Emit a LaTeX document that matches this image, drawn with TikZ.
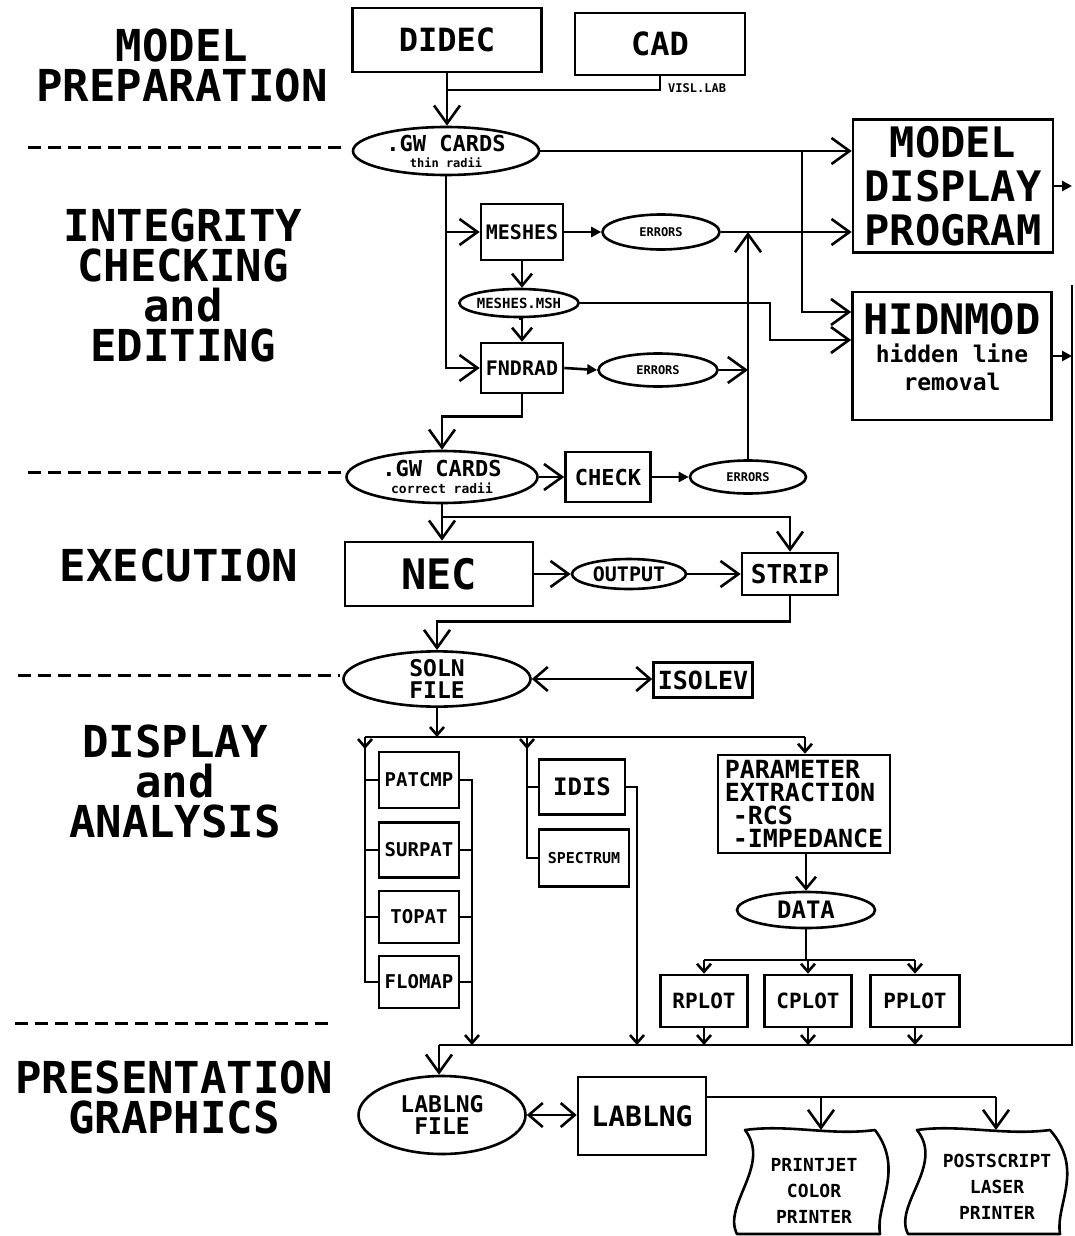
\documentclass[tikz,border=0pt]{standalone}
\usepackage{fontspec}
\newfontfamily\plotter{DejaVu Sans Mono}
\usetikzlibrary{arrows.meta,shapes.geometric}

\newcommand\pf[2]{\plotter\bfseries\fontsize{#1}{#2}\selectfont}
\newcommand\pfb[2]{\plotter\bfseries\fontsize{#1}{#2}\selectfont}

\tikzset{
  every node/.style={inner sep=0pt},
  sect/.style={font=\pf{44}{40}, align=center},
  box/.style={draw, line width=2.6pt, align=center},
  file/.style={ellipse, draw, line width=2.6pt, align=center},
  link/.style={line width=2.6pt},
  flow/.style={link, -{Straight Barb[length=18pt,width=26pt]}},
  mid/.style={link, -{Straight Barb[length=12pt,width=20pt]}},
  drop/.style={link, -{Straight Barb[length=8pt,width=14pt]}},
  feed/.style={link, -{Triangle[length=10pt,width=10pt]}},
  both/.style={link, {Straight Barb[length=14pt,width=24pt]}-{Straight Barb[length=14pt,width=24pt]}},
  divider/.style={line width=3pt, dash pattern=on 13pt off 7pt},
}

\begin{document}
\begin{tikzpicture}[x=1pt,y=-1pt]
\useasboundingbox (0,0) rectangle (1075,1236);

% section titles
\node[sect] (prep) at (182,65) {MODEL\\PREPARATION};
\node[sect] (integ) at (183,285) {INTEGRITY\\CHECKING\\and\hspace*{36pt}\\EDITING};
\node[sect] (exec) at (179,565) {EXECUTION};
\node[sect] (disp) at (175,781) {DISPLAY\\and\hspace*{34pt}\\ANALYSIS};
\node[sect] (pres) at (174,1097) {PRESENTATION\\GRAPHICS};

\draw[divider] (28,147) -- (345,147);
\draw[divider] (28,472) -- (345,472);
\draw[divider] (18,675) -- (340,675);
\draw[divider] (15,1023) -- (332,1023);

% model preparation
\node[box, minimum width=189pt, minimum height=64pt, font=\pf{32}{34}] (didec) at (447,40) {DIDEC};
\node[box, minimum width=170pt, minimum height=62pt, font=\pf{32}{34}] (cad) at (660,44) {CAD};
\coordinate (merge) at (447,90);
\draw[link] (cad.south) |- (merge);
\node[font=\pfb{12}{12}, anchor=west] (visl) at (668,88) {VISL.LAB};

\node[file, minimum width=186pt, minimum height=48pt, font=\pfb{22}{16}] (gw1) at (446,151) {.GW CARDS\\{\pfb{12}{12}thin radii}};
\draw[flow] (didec.south) -- (didec.south |- gw1.north);

% integrity checking
\node[box, minimum width=200pt, minimum height=133pt, font=\pf{42}{44}] (mdp) at (953,186) {MODEL\\DISPLAY\\PROGRAM};
\node[box, minimum width=199pt, minimum height=128pt] (hid) at (952,356) {};
\node[font=\pf{42}{28}, align=center] (hidtxt) at (952,347) {HIDNMOD\\{\pfb{23}{25}hidden line}\\{\pfb{23}{25}removal}};

\node[box, minimum width=82pt, minimum height=56pt, font=\pfb{20}{20}] (meshes) at (522,232) {MESHES};
\node[file, minimum width=117pt, minimum height=35pt, font=\pfb{12}{12}] (err1) at (661,232) {ERRORS};
\node[file, minimum width=119pt, minimum height=28pt, font=\pfb{14}{14}] (msh) at (519,303) {MESHES.MSH};
\node[box, minimum width=82pt, minimum height=50pt, font=\pfb{20}{20}] (fnd) at (522,368) {FNDRAD};
\node[file, minimum width=119pt, minimum height=33pt, font=\pfb{12}{12}] (err2) at (658,370) {ERRORS};

\draw[flow] (gw1.east) -- (gw1.east -| mdp.west);
\coordinate (split) at (802,151);
\draw[flow] (split) |- ([yshift=44pt]hid.west);
\draw[flow] (gw1.south) |- (meshes.west);
\draw[flow] (gw1.south) |- (fnd.west);
\draw[feed] (meshes.east) -- (err1.west);
\draw[mid] (meshes.south) -- (meshes.south |- msh.north);
\draw[mid] (msh.south) -- (msh.south -| fnd.north) -- (fnd.north);
\draw[feed] (fnd.east) -- (err2.west);
\draw[flow] (err1.east) -- (err1.east -| mdp.west);
\draw[flow] (msh.east) -- (770,303) |- ([yshift=16pt]hid.west);

% corrected cards
\node[file, minimum width=191pt, minimum height=52pt, font=\pfb{22}{17}] (gw2) at (442,477) {.GW CARDS\\{\pfb{13}{13}correct radii}};
\node[box, minimum width=85pt, minimum height=50pt, font=\pfb{22}{22}] (check) at (608,477) {CHECK};
\node[file, minimum width=116pt, minimum height=33pt, font=\pfb{12}{12}] (err3) at (748,477) {ERRORS};
\draw[flow] (fnd.south) -- ++(0,22) -| (gw2.north);
\draw[flow] (gw2.east) -- (check.west);
\draw[feed] (check.east) -- (err3.west);
\draw[flow] (err3.north) -- (err3.north |- err1.east);
\draw[flow] (err2.east) -- (err2.east -| err3.north);

% execution
\node[box, minimum width=188pt, minimum height=64pt, font=\pf{42}{44}] (nec) at (439,574) {NEC};
\node[file, minimum width=114pt, minimum height=30pt, font=\pfb{20}{20}] (output) at (629,574) {OUTPUT};
\node[box, minimum width=96pt, minimum height=42pt, font=\pfb{26}{26}] (strip) at (790,574) {STRIP};
\coordinate (tostrip) at (442,517);
\draw[flow] (gw2.south) -- (gw2.south |- nec.north);
\draw[flow] (tostrip) -| (strip.north);
\draw[flow] (nec.east) -- (output.west);
\draw[flow] (output.east) -- (strip.west);

% display and analysis
\node[file, minimum width=187pt, minimum height=50pt, font=\pf{23}{22}] (soln) at (437,679) {SOLN\\FILE};
\node[box, minimum width=99pt, minimum height=35pt, font=\pf{25}{25}] (isolev) at (703,680) {ISOLEV};
\draw[flow] (strip.south) -- ++(0,25) -| (soln.north);
\draw[both] (soln.east) -- (soln.east -| isolev.west);

\coordinate (dbus) at (437,737);
\coordinate (busL) at (365,737);
\coordinate (busM) at (527,737);
\coordinate (busR) at (805,737);
\draw[drop] (soln.south) -- (dbus);
\draw[link] (busL) -- (busR);

\node[box, minimum width=80pt, minimum height=56pt, font=\pfb{19}{19}] (patcmp) at (419,780) {PATCMP};
\node[box, minimum width=80pt, minimum height=55pt, font=\pfb{19}{19}] (surpat) at (419,850) {SURPAT};
\node[box, minimum width=80pt, minimum height=52pt, font=\pfb{19}{19}] (topat) at (419,917) {TOPAT};
\node[box, minimum width=80pt, minimum height=52pt, font=\pfb{19}{19}] (flomap) at (419,982) {FLOMAP};
\coordinate (outA) at (472,1045);
\draw[link] (busL) |- (flomap.west);
\draw[drop] (busL) -- ++(0,12);
\foreach \b in {patcmp,surpat,topat}
  \draw[link] (\b.west) -- (\b.west -| busL);
\draw[drop] (patcmp.east) -| (outA);
\foreach \b in {surpat,topat,flomap}
  \draw[link] (\b.east) -- (\b.east -| outA);

\node[box, minimum width=86pt, minimum height=55pt, font=\pf{24}{24}] (idis) at (582,787) {IDIS};
\node[box, minimum width=90pt, minimum height=57pt, font=\pfb{15}{15}] (spect) at (584,858) {SPECTRUM};
\coordinate (outB) at (637,1045);
\draw[link] (busM) |- (spect.west);
\draw[drop] (busM) -- ++(0,12);
\draw[link] (idis.west) -- (idis.west -| busM);
\draw[drop] (idis.east) -| (outB);

\node[box, minimum width=172pt, minimum height=98pt, align=left, font=\pfb{25}{23}] (param) at (804,804) {PARAMETER\\EXTRACTION\\\hspace*{8pt}-RCS\\\hspace*{8pt}-IMPEDANCE};
\draw[drop] (busR) -- (busR |- param.north);
\node[file, minimum width=138pt, minimum height=36pt, font=\pfb{24}{24}] (data) at (806,910) {DATA};
\draw[mid] (param.south -| data.north) -- (data.north);

\coordinate (pbus) at (806,960);
\coordinate (mainbus) at (439,1045);
\coordinate (rtop) at (1072,285);
\node[box, minimum width=87pt, minimum height=52pt, font=\pfb{21}{21}] (rplot) at (704,1001) {RPLOT};
\node[box, minimum width=87pt, minimum height=52pt, font=\pfb{21}{21}] (cplot) at (808,1001) {CPLOT};
\node[box, minimum width=89pt, minimum height=52pt, font=\pfb{21}{21}] (pplot) at (915,1001) {PPLOT};
\draw[link] (data.south) -- (pbus);
\draw[link] (rplot.north |- pbus) -- (pplot.north |- pbus);
\foreach \p in {rplot,cplot,pplot} {
  \draw[drop] (\p.north |- pbus) -- (\p.north);
  \draw[drop] (\p.south) -- (\p.south |- mainbus);
}

% return line and presentation bus
\draw[link] (mainbus) -- (mainbus -| rtop) -- (rtop);
\draw[feed] (mdp.east) -- (mdp.east -| rtop);
\draw[feed] (hid.east) -- (hid.east -| rtop);

% presentation graphics
\node[file, minimum width=167pt, minimum height=78pt, font=\pf{23}{22}] (lfile) at (442,1115) {LABLNG\\FILE};
\node[box, minimum width=128pt, minimum height=78pt, font=\pf{28}{28}] (lablng) at (642,1116) {LABLNG};
\draw[flow] (mainbus) -- (mainbus |- lfile.north);
\draw[both] (lfile.east) -- (lfile.east -| lablng.west);

\coordinate (pout) at (996,1097);
\coordinate (pjtop) at (821,1130);
\coordinate (pstop) at (996,1130);
\draw[link] ([yshift=19pt]lablng.east) -- (pout);
\draw[flow] (pjtop |- pout) -- (pjtop);
\draw[flow] (pout) -- (pstop);

% printers
\draw[link, line join=round] (745,1130) .. controls (790,1124) and (830,1136) .. (875,1130)
  .. controls (905,1170) and (875,1205) .. (880,1234) -- (737,1234)
  .. controls (722,1205) and (772,1165) .. (745,1130) -- cycle;
\draw[link, line join=round] (917,1130) .. controls (960,1124) and (1005,1136) .. (1050,1130)
  .. controls (1085,1170) and (1055,1205) .. (1060,1234) -- (908,1234)
  .. controls (893,1205) and (945,1165) .. (917,1130) -- cycle;
\node[font=\pfb{18}{26}, align=center] (pjet) at (814,1191) {PRINTJET\\COLOR\\PRINTER};
\node[font=\pfb{18}{26}, align=center] (pscr) at (997,1187) {POSTSCRIPT\\LASER\\PRINTER};
\end{tikzpicture}
\end{document}
